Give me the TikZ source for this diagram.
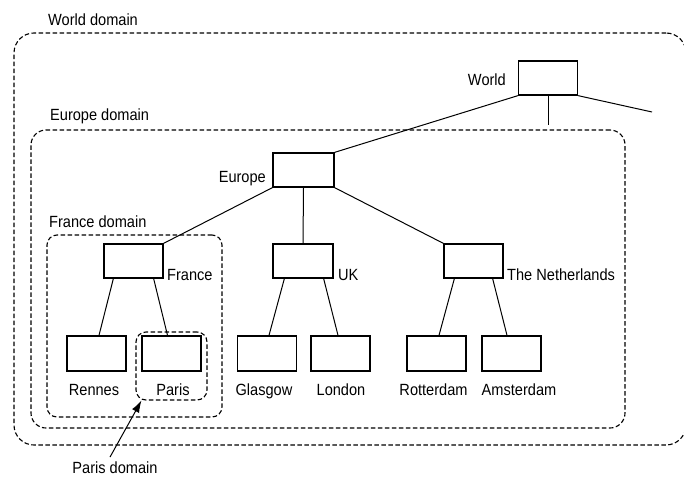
\documentclass[tikz,border=0pt]{standalone}
\usepackage{fontspec}
\setmainfont[FakeStretch=0.9]{Liberation Sans}
\usetikzlibrary{calc,arrows.meta}
\begin{document}
\begin{tikzpicture}[x=1pt,y=-1pt,
  every node/.style={font=\fontsize{16.2}{18}\selectfont},
  hostbox/.style={draw, line width=1.3pt, minimum width=59pt, minimum height=34pt, inner sep=0pt},
  link/.style={line width=1pt},
  frame/.style={draw, dash pattern=on 4.5pt off 2.5pt, line width=1.1pt, inner sep=0pt},
  lbl/.style={inner sep=0pt},
  pointer/.style={line width=1pt, -{Latex[length=12pt,width=8pt]}}]
\useasboundingbox (0,0) rectangle (684,482);

% domain frames
\node[frame, rounded corners=20pt, minimum width=672pt, minimum height=412pt] (worlddom) at (350,239) {};
\node[frame, rounded corners=15pt, minimum width=594pt, minimum height=298pt] (europedom) at (328,279) {};
\node[frame, rounded corners=10pt, minimum width=175pt, minimum height=182pt] (francedom) at (134.5,326) {};
\node[frame, rounded corners=10pt, minimum width=71pt, minimum height=68pt] (parisdom) at (171.5,366) {};

% domain labels
\node[lbl, anchor=base west] (worldlbl) at (48,25) {World domain};
\node[lbl, anchor=base west] (europelbl) at (50,120) {Europe domain};
\node[lbl, anchor=base west] (francelbl) at (49,227) {France domain};
\node[lbl, anchor=base] (parislbl) at (115,473) {Paris domain};

% name servers
\node[hostbox] (world) at (548,78) {};
\node[hostbox, minimum width=61pt] (europe) at (303.5,170) {};
\node[hostbox] (france) at (133.5,261) {};
\node[hostbox, minimum width=60pt] (uk) at (303,261) {};
\node[hostbox] (nl) at (473.5,261) {};
\node[hostbox, minimum height=35pt] (rennes) at (96.5,353.5) {};
\node[hostbox, minimum height=35pt] (paris) at (171.5,353.5) {};
\node[hostbox, minimum height=35pt] (glasgow) at (267,353.5) {};
\node[hostbox, minimum height=35pt] (london) at (340.5,353.5) {};
\node[hostbox, minimum height=35pt] (rotterdam) at (436.5,353.5) {};
\node[hostbox, minimum height=35pt] (amsterdam) at (511.5,353.5) {};

% server labels
\node[lbl, anchor=base east] (worldname) at (506,85) {World};
\node[lbl, anchor=base east] (europename) at (266,182) {Europe};
\node[lbl, anchor=base west] (francename) at (167,280) {France};
\node[lbl, anchor=base west] (ukname) at (338,280) {UK};
\node[lbl, anchor=base west] (nlname) at (507,280) {The Netherlands};
\node[lbl, anchor=base] (rennesname) at (94,395) {Rennes};
\node[lbl, anchor=base] (parisname) at (173,395) {Paris};
\node[lbl, anchor=base] (glasgowname) at (264,395) {Glasgow};
\node[lbl, anchor=base] (londonname) at (341,395) {London};
\node[lbl, anchor=base] (rotterdamname) at (433.5,395) {Rotterdam};
\node[lbl, anchor=base] (amsterdamname) at (519,395) {Amsterdam};

% loose ends of the world level
\coordinate (worldright) at (652,112);
\coordinate (worlddown) at (548,125);

% tree connectors
\draw[link] (world.south west) -- (europe.north east);
\draw[link] (world.south) -- (worlddown);
\draw[link] (world.south east) -- (worldright);
\draw[link] (europe.south west) -- (france.north east);
\draw[link] (europe.south) -- (uk.north);
\draw[link] (europe.south east) -- (nl.north west);
\draw[link] ($(france.south west)+(10,0)$) -- ($(rennes.north)+(2.5,0)$);
\draw[link] ($(france.south east)+(-10,0)$) -- ($(paris.north)+(-4,0)$);
\draw[link] ($(uk.south west)+(12,0)$) -- ($(glasgow.north)+(2,0)$);
\draw[link] ($(uk.south east)+(-10,0)$) -- ($(london.north)+(-2.5,0)$);
\draw[link] ($(nl.south west)+(11,0)$) -- ($(rotterdam.north)+(2.5,0)$);
\draw[link] ($(nl.south east)+(-11,0)$) -- ($(amsterdam.north)+(-4.5,0)$);

% pointer to the Paris domain
\draw[pointer] ([xshift=-5pt,yshift=4pt]parislbl.north) -- ([xshift=6pt]parisdom.south west);
\end{tikzpicture}
\end{document}
